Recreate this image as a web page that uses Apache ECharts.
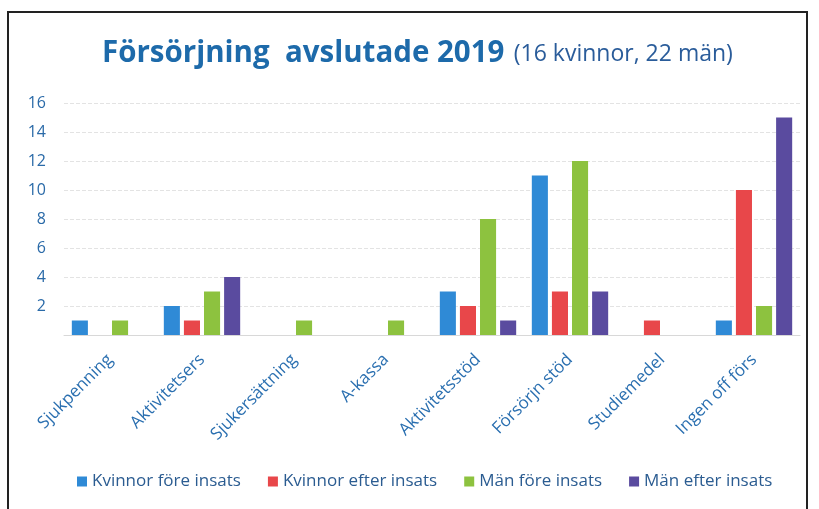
<!DOCTYPE html>
<html>
<head>
<meta charset="utf-8">
<script src="https://cdn.jsdelivr.net/npm/echarts@6/dist/echarts.min.js"></script>
<style>
  html, body { margin: 0; padding: 0; background: #fff; overflow: hidden; }
  #frame { position: absolute; left: 7px; top: 11px; width: 797px; height: 520px; border: 2px solid #222; }
  #chart { position: absolute; left: 0; top: 0; width: 819px; height: 509px; }
</style>
</head>
<body>
<div id="frame"></div>
<div id="chart"></div>
<script>
// categories and series values
const categories = ['Sjukpenning', 'Aktivitetsers', 'Sjukersättning', 'A-kassa', 'Aktivitetsstöd', 'Försörjn stöd', 'Studiemedel', 'Ingen off förs']
const kvinnorFore = [1, 2, 0, 0, 3, 11, 0, 1]
const kvinnorEfter = [0, 1, 0, 0, 2, 3, 1, 10]
const manFore = [1, 3, 1, 1, 8, 12, 0, 2]
const manEfter = [0, 4, 0, 0, 1, 3, 0, 15]
const seriesNames = ['Kvinnor före insats', 'Kvinnor efter insats', 'Män före insats', 'Män efter insats']
const colors = ['#2f8ad6', '#e8474a', '#8dc23f', '#5a4b9f']

const chart = echarts.init(document.getElementById('chart'))
const font = 'Open Sans'

const mkSeries = (name, data, i) => ({
  name: name,
  type: 'bar',
  data: data.map(v => (v === 0 ? null : v)),
  barGap: '25%',
  barCategoryGap: '17%',
  itemStyle: { color: colors[i] }
})

chart.setOption({
  color: colors,
  textStyle: { fontFamily: font },
  title: {
    text: '{a|Försörjning  avslutade 2019}  {b|(16 kvinnor, 22 män)}',
    left: 97,
    top: 34,
    textStyle: {
      rich: {
        a: { fontSize: 29.5, fontWeight: 'bold', color: '#1d6aaa', fontFamily: font },
        b: { fontSize: 23, fontWeight: 'normal', color: '#2a5c9a', fontFamily: font }
      }
    }
  },
  grid: { left: 64, right: 19, top: 103, bottom: 174 },
  legend: {
    data: seriesNames,
    top: 468,
    left: 72,
    itemWidth: 10,
    itemHeight: 10,
    itemGap: 27,
    icon: 'rect',
    textStyle: { fontSize: 17, color: '#2b5c91', fontFamily: font }
  },
  xAxis: {
    type: 'category',
    data: categories,
    axisTick: { show: false },
    axisLine: { lineStyle: { color: '#d8d8d8' } },
    axisLabel: {
      rotate: 45,
      interval: 0,
      margin: 22,
      fontSize: 17,
      color: '#2a6fb0',
      fontFamily: font
    }
  },
  yAxis: {
    type: 'value',
    min: 0,
    max: 16,
    interval: 2,
    axisLine: { show: false },
    axisTick: { show: false },
    splitLine: { lineStyle: { color: '#e3e3e3', type: 'dashed' } },
    axisLabel: {
      fontSize: 16,
      color: '#2a6aa8',
      margin: 18,
      fontFamily: font,
      formatter: v => (v === 0 ? '' : v)
    }
  },
  series: [
    mkSeries(seriesNames[0], kvinnorFore, 0),
    mkSeries(seriesNames[1], kvinnorEfter, 1),
    mkSeries(seriesNames[2], manFore, 2),
    mkSeries(seriesNames[3], manEfter, 3)
  ]
})
</script>
</body>
</html>
